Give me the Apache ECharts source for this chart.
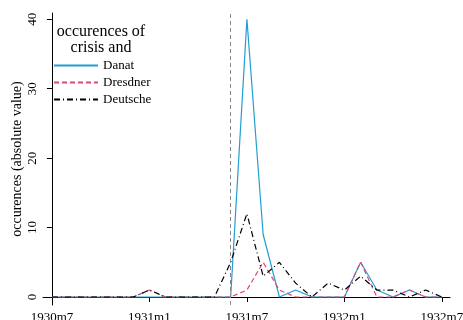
<!DOCTYPE html>
<html>
<head>
<meta charset="utf-8">
<script src="https://cdn.jsdelivr.net/npm/echarts@6/dist/echarts.min.js"></script>
<style>
    html, body { margin: 0; padding: 0; background: #fff; }
    #main { width: 463px; height: 320px; }
</style>
</head>
<body>
<div id="main"></div>
<script>
    // months 1930m7 .. 1932m7
    var months = ['1930m7', '1930m8', '1930m9', '1930m10', '1930m11', '1930m12',
        '1931m1', '1931m2', '1931m3', '1931m4', '1931m5', '1931m6',
        '1931m7', '1931m8', '1931m9', '1931m10', '1931m11', '1931m12',
        '1932m1', '1932m2', '1932m3', '1932m4', '1932m5', '1932m6', '1932m7'];
    var danat = [0, 0, 0, 0, 0, 0, 0, 0, 0, 0, 0, 0, 40, 9, 0, 1, 0, 0, 0, 5, 1, 0, 1, 0, 0];
    var dresdner = [0, 0, 0, 0, 0, 0, 1, 0, 0, 0, 0, 0, 1, 5, 1, 0, 0, 0, 0, 5, 0, 0, 1, 0, 0];
    var deutsche = [0, 0, 0, 0, 0, 0, 1, 0, 0, 0, 0, 5, 12, 3, 5, 2, 0, 2, 1, 3, 1, 1, 0, 1, 0];
    var xTicks = ['1930m7', '1931m1', '1931m7', '1932m1', '1932m7'];
    var yTicks = [0, 10, 20, 30, 40];
    var crisisMonth = '1931m6';

    var font = 'Liberation Serif';

    // 月份序号 -> [x, y]
    var toPoints = function(values) {
        return values.map(function(v, i) {
            return [i, v];
        });
    };

    var lineSeries = function(name, values, color, dash) {
        return {
            name: name,
            type: 'line',
            data: toPoints(values),
            symbol: 'none',
            animation: false,
            lineStyle: {
                color: color,
                width: 1.2,
                type: dash
            },
            itemStyle: {
                color: color
            }
        };
    };

    var series = [
        lineSeries('Danat', danat, '#1f9ed1', 'solid'),
        lineSeries('Dresdner', dresdner, '#d94a76', [5, 3]),
        lineSeries('Deutsche', deutsche, '#000000', [6, 3, 1, 3])
    ];

    // crisis marker
    series[0].markLine = {
        silent: true,
        symbol: 'none',
        label: { show: false },
        lineStyle: { color: '#888888', type: [4, 3], width: 1 },
        data: [{ xAxis: months.indexOf(crisisMonth) }]
    };

    var tickIdx = xTicks.map(function(t) { return months.indexOf(t); });

    var option = {
        animation: false,
        grid: {
            left: 43,
            right: 13,
            top: 13,
            bottom: 15,
            outerBoundsMode: 'none'
        },
        graphic: [{
            type: 'text',
            x: 101,
            y: 24,
            style: {
                text: 'occurences of\ncrisis and',
                fill: '#000',
                font: '16px "' + font + '"',
                align: 'center',
                lineHeight: 16
            }
        }],
        legend: {
            orient: 'vertical',
            left: 48,
            top: 54,
            itemWidth: 44,
            itemHeight: 12,
            itemGap: 4,
            itemStyle: { opacity: 0 },
            data: ['Danat', 'Dresdner', 'Deutsche'],
            textStyle: {
                fontFamily: font,
                fontSize: 13,
                color: '#000'
            }
        },
        xAxis: {
            type: 'value',
            min: -0.55,
            max: 24.5,
            splitLine: { show: false },
            axisLine: { lineStyle: { color: '#000', width: 1 } },
            axisTick: {
                length: 5,
                customValues: tickIdx,
                lineStyle: { color: '#000' }
            },
            axisLabel: {
                customValues: tickIdx,
                formatter: function(v) { return months[v]; },
                fontFamily: font,
                fontSize: 13,
                color: '#000',
                margin: 6
            }
        },
        yAxis: {
            type: 'value',
            min: -1.15,
            max: 40.9,
            name: 'occurences (absolute value)',
            nameLocation: 'middle',
            nameGap: 19,
            nameMoveOverlap: false,
            nameTextStyle: {
                fontFamily: font,
                fontSize: 14,
                color: '#000'
            },
            splitLine: { show: false },
            axisLine: { show: true, lineStyle: { color: '#000', width: 1 } },
            axisTick: {
                show: true,
                length: 5,
                customValues: yTicks,
                lineStyle: { color: '#000' }
            },
            axisLabel: {
                customValues: yTicks,
                rotate: 90,
                fontFamily: font,
                fontSize: 13,
                color: '#000',
                margin: 4
            }
        },
        series: series
    };

    echarts.init(document.getElementById('main')).setOption(option);
</script>
</body>
</html>
